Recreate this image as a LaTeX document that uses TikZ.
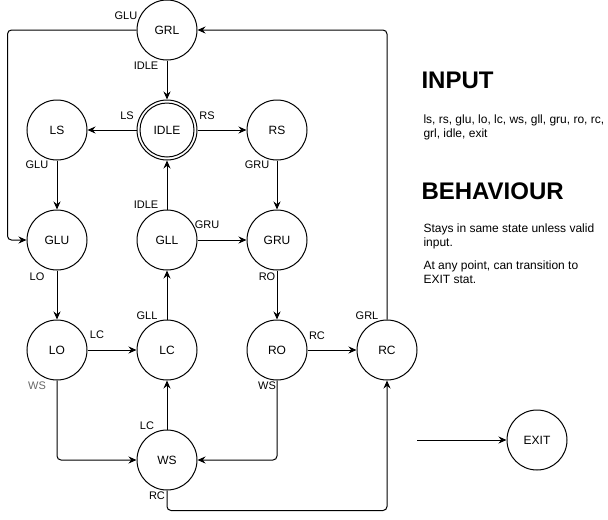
\documentclass[tikz,border=0pt]{standalone}
\usepackage{fontspec}
\setmainfont{Liberation Sans}
\usetikzlibrary{arrows.meta}

\begin{document}
\begin{tikzpicture}[x=0.75pt, y=-0.75pt, line width=0.75pt,
    estado/.style={circle, draw, minimum size=45pt, inner sep=0pt, font=\fontsize{9}{10}\selectfont},
    etq/.style={inner sep=0pt, font=\fontsize{8.25}{9}\selectfont},
    flecha/.style={-{Stealth[length=6pt, width=5.25pt, inset=2pt]}},
    titulo/.style={anchor=base west, inner sep=0pt, font=\fontsize{18}{20}\selectfont\bfseries},
    texto/.style={anchor=base west, inner sep=0pt, align=left, font=\fontsize{9}{10.3}\selectfont}]
    \useasboundingbox (0,0) rectangle (608,519);

    % Estados
    \node[estado] (grl) at (167,30) {GRL};
    \node[estado] (idle) at (167,130) {IDLE};
    \draw (idle.center) circle[radius=27];
    \node[estado] (ls) at (57,130) {LS};
    \node[estado] (rs) at (277,130) {RS};
    \node[estado] (glu) at (57,240) {GLU};
    \node[estado] (gll) at (167,240) {GLL};
    \node[estado] (gru) at (277,240) {GRU};
    \node[estado] (lo) at (57,350) {LO};
    \node[estado] (lc) at (167,350) {LC};
    \node[estado] (ro) at (277,350) {RO};
    \node[estado] (rc) at (387,350) {RC};
    \node[estado] (ws) at (167,460) {WS};
    \node[estado] (exit) at (537,440) {EXIT};
    \coordinate (entrada) at (417,440);

    % Transiciones
    \draw[flecha] (grl) -- (idle);
    \draw[flecha] (idle) -- (ls);
    \draw[flecha] (idle) -- (rs);
    \draw[flecha] (ls) -- (glu);
    \draw[flecha] (rs) -- (gru);
    \draw[flecha] (gll) -- (idle);
    \draw[flecha] (gll) -- (gru);
    \draw[flecha] (glu) -- (lo);
    \draw[flecha] (gru) -- (ro);
    \draw[flecha] (lc) -- (gll);
    \draw[flecha] (lo) -- (lc);
    \draw[flecha] (ro) -- (rc);
    \draw[flecha] (ws) -- (lc);
    \draw[flecha, rounded corners=3pt] (grl.west) -- ++(-129,0) |- (glu.west);
    \draw[flecha, rounded corners=3pt] (rc.north) |- (grl.east);
    \draw[flecha, rounded corners=3pt] (lo.south) |- (ws.west);
    \draw[flecha, rounded corners=3pt] (ro.south) |- (ws.east);
    \draw[flecha, rounded corners=3pt] (ws.south) -- ++(0,20) -| (rc.south);
    \draw[flecha] (entrada) -- (exit);

    % Etiquetas
    \node[etq] (eGlu1) at (126,16) {GLU};
    \node[etq] (eIdle1) at (146,66) {IDLE};
    \node[etq] (eLs) at (127,116) {LS};
    \node[etq] (eRs) at (207,116) {RS};
    \node[etq] (eGlu2) at (37,165) {GLU};
    \node[etq] (eGru1) at (257,165) {GRU};
    \node[etq] (eIdle2) at (146,205) {IDLE};
    \node[etq] (eGru2) at (207,225) {GRU};
    \node[etq] (eLo) at (37,277) {LO};
    \node[etq] (eRo) at (267,277) {RO};
    \node[etq] (eGll) at (147,316) {GLL};
    \node[etq] (eLc1) at (97,335) {LC};
    \node[etq] (eRc1) at (317,336) {RC};
    \node[etq] (eGrl) at (367,316) {GRL};
    \node[etq, black!60] (eWs1) at (37,386) {WS};
    \node[etq] (eWs2) at (267,386) {WS};
    \node[etq] (eLc2) at (147,426) {LC};
    \node[etq] (eRc2) at (157,496) {RC};

    % Texto (base = ultima linea)
    \node[titulo] (tInput) at (421,88) {INPUT};
    \node[texto] (lista) at (423,137) {ls, rs, glu, lo, lc, ws, gll, gru, ro, rc,\\grl, idle, exit};
    \node[titulo] (tBehav) at (421,199) {BEHAVIOUR};
    \node[texto] (regla1) at (423,246.5) {Stays in same state unless valid\\input.};
    \node[texto] (regla2) at (423,283) {At any point, can transition to\\EXIT stat.};
\end{tikzpicture}
\end{document}
